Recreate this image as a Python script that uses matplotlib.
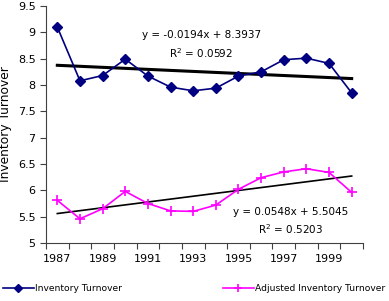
import numpy as np
import matplotlib
matplotlib.use("Agg")
import matplotlib.pyplot as plt

years = list(range(1987, 2001))
inv_turnover = [9.10, 8.08, 8.18, 8.49, 8.17, 7.96, 7.89, 7.94, 8.17, 8.25, 8.48, 8.51, 8.41, 7.85]
adj_turnover = [5.81, 5.46, 5.65, 5.98, 5.75, 5.61, 5.60, 5.72, 6.02, 6.24, 6.35, 6.41, 6.34, 5.96]
tick_years = [1987, 1989, 1991, 1993, 1995, 1997, 1999]

# trendline coefficients (as shown in the chart)
trend1 = (-0.0194, 8.3937, 0.0592)
trend2 = (0.0548, 5.5045, 0.5203)

fig = plt.figure(figsize=(3.89, 3.01), dpi=100)
ax = fig.add_axes([46/389, 1 - 243/301, (363-46)/389, (243-6)/301])

x = np.arange(1, len(years) + 1)

ax.plot(x, inv_turnover, color="#000080", marker="D", markersize=5, linewidth=1.2,
        label="Inventory Turnover", zorder=3)
ax.plot(x, adj_turnover, color="#FF00FF", marker="+", markersize=7, markeredgewidth=1.2,
        linewidth=1.2, label="Adjusted Inventory Turnover", zorder=3)

ax.plot(x[[0, -1]], trend1[0] * x[[0, -1]] + trend1[1], color="black", linewidth=2.2, zorder=2)
ax.plot(x[[0, -1]], trend2[0] * x[[0, -1]] + trend2[1], color="black", linewidth=1.2, zorder=2)

ax.set_xlim(0.5, 14.5)
ax.set_ylim(5, 9.5)
ax.set_yticks(np.arange(5, 9.51, 0.5))
ax.set_yticklabels(["5", "5.5", "6", "6.5", "7", "7.5", "8", "8.5", "9", "9.5"])

ax.set_xticks(np.arange(0.5, 15, 1))
ax.set_xticklabels([])
ax.set_xticks([years.index(y) + 1 for y in tick_years], minor=True)
ax.set_xticklabels([str(y) for y in tick_years], minor=True)
ax.tick_params(axis="x", which="minor", length=0, pad=8)
ax.tick_params(axis="both", which="major", length=4, color="#404040", labelsize=8)
ax.tick_params(axis="x", which="minor", labelsize=8)

for s in ["top", "right"]:
    ax.spines[s].set_visible(False)
for s in ["left", "bottom"]:
    ax.spines[s].set_color("#404040")

ax.set_ylabel("Inventory Turnover", fontsize=8.8, labelpad=4)

ax.text(7.35, 8.95, "y = -0.0194x + 8.3937", ha="center", va="center", fontsize=7.5)
ax.text(7.35, 8.61, "R$^2$ = 0.0592", ha="center", va="center", fontsize=7.5)
ax.text(11.3, 5.59, "y = 0.0548x + 5.5045", ha="center", va="center", fontsize=7.5)
ax.text(11.3, 5.26, "R$^2$ = 0.5203", ha="center", va="center", fontsize=7.5)

leg = fig.legend(loc="lower center", bbox_to_anchor=(0.5, 0.0), ncol=2, frameon=False,
                 fontsize=6.6, handlelength=3.3, columnspacing=11, handletextpad=0.2,
                 markerscale=0.8)

fig.savefig("out.png", dpi=100)
